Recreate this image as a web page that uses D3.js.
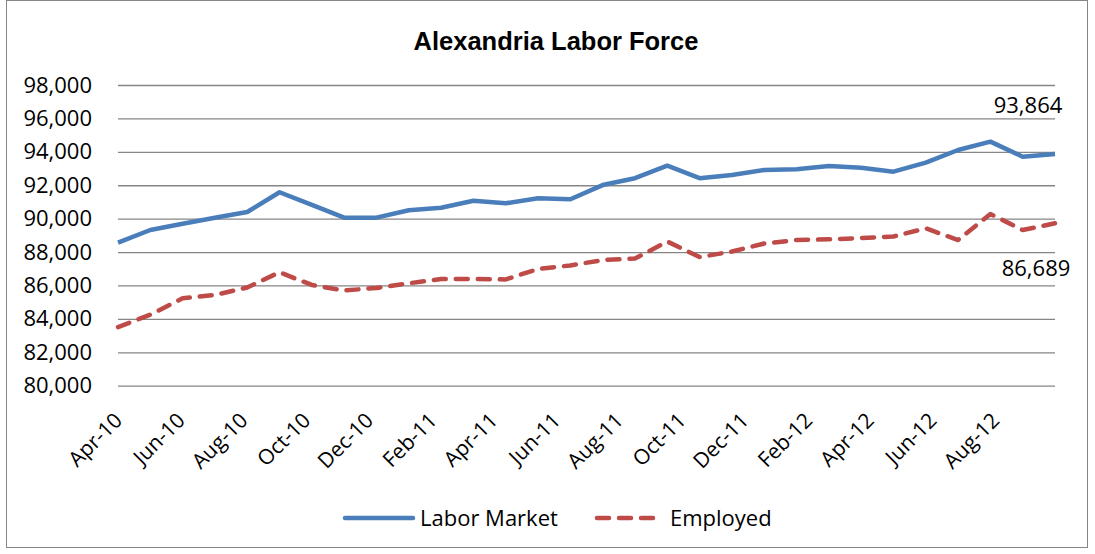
<!DOCTYPE html>
<html><head><meta charset="utf-8">
<script src="https://cdn.jsdelivr.net/npm/d3@7"></script>
<style>body{margin:0;background:#fff}</style>
</head><body><svg id="c" width="1095" height="554"></svg>
<script>
const title = "Alexandria Labor Force";
const seriesNames = ["Labor Market", "Employed"];
const months = ["Apr-10","May-10","Jun-10","Jul-10","Aug-10","Sep-10","Oct-10","Nov-10","Dec-10",
  "Jan-11","Feb-11","Mar-11","Apr-11","May-11","Jun-11","Jul-11","Aug-11","Sep-11","Oct-11","Nov-11","Dec-11",
  "Jan-12","Feb-12","Mar-12","Apr-12","May-12","Jun-12","Jul-12","Aug-12","Sep-12"];
const laborMarket = [88560, 89320, 89690, 90050, 90400, 91580, 90820, 90060, 90060, 90500,
  90650, 91070, 90920, 91220, 91160, 92010, 92420, 93170, 92420, 92610,
  92910, 92950, 93150, 93050, 92810, 93350, 94110, 94610, 93710, 93864];
const employed = [83510, 84250, 85230, 85430, 85880, 86790, 86030, 85700, 85850, 86130,
  86390, 86390, 86360, 86990, 87200, 87520, 87610, 88630, 87700, 88030,
  88510, 88720, 88760, 88840, 88930, 89420, 88720, 90280, 89320, 89720];
const yTicks = [80000, 82000, 84000, 86000, 88000, 90000, 92000, 94000, 96000, 98000];
const endLabels = ["93,864", "86,689"];
const colors = ["#4a7ebb", "#be4b48"];

const plot = {left: 118, right: 1055, top: 85, bottom: 385.7};
const svg = d3.select("#c");
const FONT = "'Open Sans', 'Noto Sans', sans-serif";

svg.append("rect").attr("x", 6.5).attr("y", 0.5).attr("width", 1081).attr("height", 547)
  .attr("fill", "#fff").attr("stroke", "#868686").attr("stroke-width", 1);

svg.append("text").attr("x", 556).attr("y", 50).attr("text-anchor", "middle")
  .attr("font-family", "'Liberation Sans', Arial, sans-serif").attr("font-weight", "bold")
  .attr("font-size", 25.5).attr("fill", "#000").text(title);

const x = d3.scalePoint().domain(months).range([plot.left, plot.right]);
const xAxisScale = d3.scaleTime().domain([new Date(2010, 3, 1), new Date(2012, 8, 28)])
  .range([plot.left, plot.right]);
const y = d3.scaleLinear().domain([80000, 98000]).range([plot.bottom, plot.top]);

// Y axis with gridlines
const yAxis = svg.append("g").attr("transform", `translate(${plot.left},0)`)
  .call(d3.axisLeft(y).tickValues(yTicks).tickFormat(d3.format(","))
    .tickSize(-(plot.right - plot.left)).tickPadding(26));
yAxis.select(".domain").remove();
yAxis.selectAll("line").attr("stroke", "#868686").attr("stroke-width", 1.3);
yAxis.selectAll("text").attr("font-family", FONT).attr("font-size", 22).attr("fill", "#000");

// X axis labels
const tickDates = d3.timeMonth.range(xAxisScale.domain()[0], xAxisScale.domain()[1], 2);
const xAxis = svg.append("g").attr("transform", `translate(0,${plot.bottom})`)
  .call(d3.axisBottom(xAxisScale).tickValues(tickDates).tickFormat(d3.timeFormat("%b-%y")).tickSize(0));
xAxis.select(".domain").remove();
xAxis.selectAll("text").attr("font-family", FONT).attr("font-size", 21).attr("fill", "#000")
  .attr("x", 0).attr("y", 0).attr("dy", 0).attr("text-anchor", "end")
  .attr("transform", "translate(5,36) rotate(-45)");

// Lines
const line = d3.line().x((d, i) => x(months[i])).y(d => y(d));
svg.append("path").datum(laborMarket).attr("d", line).attr("fill", "none")
  .attr("stroke", colors[0]).attr("stroke-width", 4.5).attr("stroke-linejoin", "round");
svg.append("path").datum(employed).attr("d", line).attr("fill", "none")
  .attr("stroke", colors[1]).attr("stroke-width", 4.5).attr("stroke-linejoin", "round")
  .attr("stroke-linecap", "round").attr("stroke-dasharray", "12,10");

// End labels
const last = months[months.length - 1];
svg.append("text").attr("x", x(last) - 27).attr("y", y(laborMarket[laborMarket.length - 1]) - 41)
  .attr("text-anchor", "middle").attr("font-family", FONT).attr("font-size", 22).text(endLabels[0]);
svg.append("text").attr("x", x(last) - 19).attr("y", y(employed[employed.length - 1]) + 53)
  .attr("text-anchor", "middle").attr("font-family", FONT).attr("font-size", 22).text(endLabels[1]);

// Legend
const legendY = 518;
const legendItems = [{x0: 345, x1: 413, tx: 420}, {x0: 597, x1: 657, tx: 670}];
legendItems.forEach((it, i) => {
  const l = svg.append("line").attr("x1", it.x0).attr("x2", it.x1).attr("y1", legendY).attr("y2", legendY)
    .attr("stroke", colors[i]).attr("stroke-width", 4.5).attr("stroke-linecap", "round");
  if (i === 1) l.attr("stroke-dasharray", "12,10");
  svg.append("text").attr("x", it.tx).attr("y", legendY).attr("dy", "0.35em")
    .attr("font-family", FONT).attr("font-size", 22).attr("fill", "#000").text(seriesNames[i]);
});
</script></body></html>
